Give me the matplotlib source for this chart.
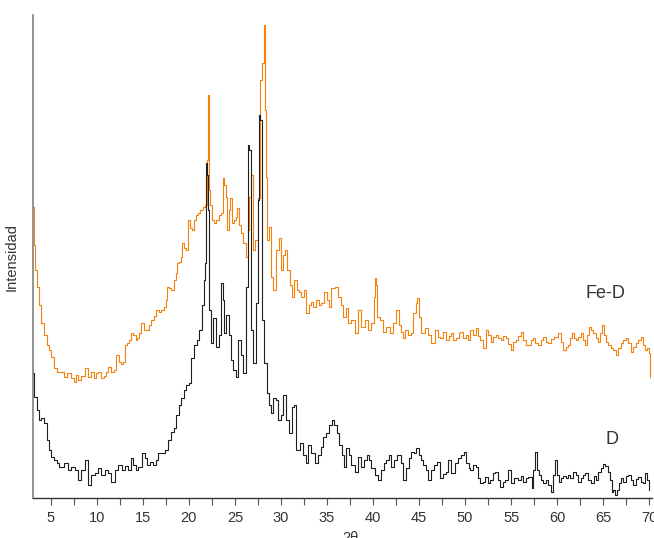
import matplotlib.pyplot as plt

plt.rcParams['font.family'] = ['Liberation Sans', 'DejaVu Sans']

# Muestra D: 2theta y cuentas (u.a.)
d_2theta = [3.08, 3.30, 3.62, 3.84, 4.16, 4.38, 4.71, 4.92, 5.25, 5.47, 5.79, 6.01, 6.33, 6.66,
            7.09, 7.42, 7.85, 8.18, 8.50, 8.94, 9.26, 9.59, 10.02, 10.35, 10.67, 11.11, 11.43,
            11.76, 12.19, 12.52, 12.95, 13.28, 13.60, 13.82, 14.14, 14.36, 14.69, 15.12, 15.34,
            15.55, 15.99, 16.31, 16.53, 16.85, 17.18, 17.61, 17.94, 18.27, 18.48, 18.81, 19.02,
            19.35, 19.57, 19.89, 20.11, 20.43, 20.76, 20.98, 21.30, 21.52, 21.74, 21.84, 21.95,
            22.06, 22.17, 22.28, 22.49, 22.82, 23.15, 23.36, 23.58, 23.80, 23.90, 24.23, 24.45,
            24.66, 24.99, 25.21, 25.53, 25.75, 26.07, 26.29, 26.51, 26.62, 26.83, 27.16, 27.38,
            27.59, 27.70, 27.81, 28.03, 28.35, 28.57, 28.79, 29.00, 29.33, 29.54, 29.87, 30.09,
            30.41, 30.74, 31.06, 31.28, 31.50, 31.82, 32.26, 32.58, 32.80, 33.12, 33.45, 33.88,
            34.21, 34.43, 34.75, 35.08, 35.40, 35.62, 35.94, 36.16, 36.49, 36.70, 36.92, 37.25,
            37.46, 37.79, 38.22, 38.55, 38.87, 39.20, 39.41, 39.63, 39.96, 40.39, 40.72, 41.04,
            41.26, 41.58, 41.80, 42.13, 42.45, 42.67, 42.89, 43.10, 43.43, 43.75, 43.97, 44.30,
            44.51, 44.84, 45.05, 45.27, 45.60, 45.81, 46.14, 46.46, 46.79, 47.12, 47.44, 47.77,
            47.98, 48.31, 48.63, 49.07, 49.39, 49.72, 49.94, 50.26, 50.48, 50.69, 51.02, 51.24,
            51.56, 51.78, 52.10, 52.32, 52.65, 52.86, 53.19, 53.41, 53.73, 53.95, 54.27, 54.49,
            54.82, 55.14, 55.47, 55.68, 55.90, 56.23, 56.44, 56.77, 56.99, 57.20, 57.31, 57.53,
            57.74, 57.96, 58.07, 58.40, 58.61, 58.94, 59.15, 59.48, 59.70, 59.91, 60.13, 60.24,
            60.56, 60.78, 61.11, 61.32, 61.54, 61.87, 62.19, 62.41, 62.73, 62.95, 63.17, 63.49,
            63.82, 64.14, 64.36, 64.58, 64.90, 65.12, 65.34, 65.66, 65.88, 65.99, 66.20, 66.42,
            66.64, 66.86, 67.07, 67.29, 67.61, 67.83, 68.16, 68.37, 68.70, 68.92, 69.24, 69.46,
            69.68, 69.89, 70.00]
d_int = [125, 101, 88, 78, 80, 75, 58, 48, 41, 38, 35, 31, 31, 35,
         28, 31, 28, 18, 28, 38, 13, 23, 25, 30, 23, 28, 25,
         16, 28, 33, 28, 32, 28, 40, 33, 28, 31, 45, 40,
         33, 36, 33, 38, 45, 45, 48, 58, 66, 70, 83, 93,
         100, 108, 113, 115, 140, 153, 158, 168, 193, 218, 235, 335,
         323, 288, 188, 155, 180, 151, 163, 215, 198, 165, 183, 163,
         138, 128, 121, 158, 143, 125, 211, 353, 348, 168, 135, 195,
         298, 383, 378, 178, 135, 105, 93, 85, 100, 98, 78, 83,
         103, 78, 65, 91, 93, 48, 55, 43, 35, 53, 45, 35,
         43, 51, 61, 65, 73, 78, 73, 65, 53, 43, 31, 50,
         43, 33, 26, 41, 31, 38, 43, 38, 30, 23, 18, 28,
         35, 38, 43, 31, 38, 43, 43, 35, 18, 30, 40, 46,
         45, 50, 43, 38, 33, 28, 18, 28, 33, 36, 20, 24,
         26, 38, 25, 35, 40, 43, 46, 35, 30, 28, 33, 31,
         20, 15, 16, 21, 15, 18, 25, 26, 18, 11, 16, 18,
         28, 15, 20, 20, 18, 22, 16, 20, 21, 21, 10, 28,
         46, 28, 23, 18, 15, 18, 13, 6, 23, 38, 23, 16,
         20, 22, 20, 23, 20, 26, 23, 16, 20, 23, 25, 18,
         15, 22, 18, 26, 30, 34, 32, 26, 18, 6, 8, 3,
         8, 15, 20, 16, 22, 23, 18, 13, 19, 21, 16, 15,
         25, 18, 8]

# Muestra Fe-D
fed_2theta = [3.08, 3.19, 3.30, 3.62, 3.84, 4.16, 4.38, 4.71, 4.92, 5.14, 5.47, 5.79, 6.01, 6.33,
              6.55, 6.88, 7.09, 7.42, 7.64, 7.85, 8.18, 8.50, 8.94, 9.26, 9.59, 9.80, 10.02,
              10.35, 10.67, 10.89, 11.11, 11.43, 11.76, 11.97, 12.30, 12.52, 12.84, 12.95, 13.28,
              13.38, 13.60, 13.82, 14.14, 14.36, 14.47, 14.69, 15.01, 15.34, 15.55, 15.77, 16.10,
              16.31, 16.64, 16.85, 17.18, 17.40, 17.61, 17.72, 17.94, 18.27, 18.48, 18.70, 18.81,
              19.02, 19.24, 19.35, 19.57, 19.78, 20.00, 20.22, 20.43, 20.65, 20.87, 21.08, 21.41,
              21.74, 21.84, 21.95, 22.06, 22.17, 22.28, 22.39, 22.71, 22.82, 23.15, 23.36, 23.58,
              23.80, 23.90, 24.12, 24.23, 24.45, 24.56, 24.77, 24.99, 25.21, 25.31, 25.53, 25.75,
              26.07, 26.40, 26.51, 26.62, 26.83, 27.05, 27.38, 27.59, 27.81, 28.03, 28.24, 28.35,
              28.46, 28.57, 28.79, 29.00, 29.33, 29.65, 29.87, 30.09, 30.41, 30.52, 30.85, 31.06,
              31.28, 31.61, 31.82, 32.04, 32.36, 32.58, 32.91, 33.12, 33.34, 33.67, 33.99, 34.21,
              34.43, 34.86, 35.08, 35.29, 35.62, 36.05, 36.38, 36.59, 36.92, 37.14, 37.46, 37.79,
              38.22, 38.55, 38.87, 39.31, 39.63, 39.96, 40.17, 40.28, 40.39, 40.50, 40.93, 41.26,
              41.58, 42.02, 42.34, 42.67, 42.89, 43.10, 43.32, 43.64, 43.97, 44.19, 44.51, 44.73,
              44.84, 45.05, 45.38, 45.81, 46.14, 46.46, 46.90, 47.12, 47.44, 47.77, 48.09, 48.31,
              48.63, 48.85, 49.18, 49.39, 49.61, 49.94, 50.15, 50.48, 50.69, 51.02, 51.24, 51.56,
              51.78, 52.10, 52.43, 52.65, 52.97, 53.19, 53.51, 53.73, 54.06, 54.27, 54.60, 54.82,
              55.14, 55.36, 55.68, 55.90, 56.23, 56.44, 56.77, 56.99, 57.31, 57.53, 57.74, 58.07,
              58.40, 58.61, 58.94, 59.15, 59.48, 59.91, 60.24, 60.56, 60.78, 61.11, 61.32, 61.54,
              61.76, 61.97, 62.19, 62.41, 62.73, 62.95, 63.17, 63.38, 63.60, 63.82, 64.04, 64.36,
              64.58, 64.79, 65.01, 65.23, 65.45, 65.66, 65.99, 66.20, 66.53, 66.75, 67.07, 67.29,
              67.61, 67.83, 68.16, 68.37, 68.70, 68.92, 69.24, 69.46, 69.68, 69.89, 70.00, 70.05]
fed_int = [291, 253, 228, 211, 193, 175, 163, 153, 148, 141, 130, 126, 126, 126,
           121, 125, 125, 120, 116, 123, 118, 122, 130, 121, 126, 120, 125,
           126, 120, 122, 126, 131, 126, 128, 143, 136, 134, 136, 153,
           155, 158, 165, 163, 158, 160, 165, 175, 168, 168, 173, 178,
           182, 188, 186, 188, 191, 198, 211, 210, 208, 218, 225, 235,
           236, 241, 255, 250, 248, 278, 270, 268, 278, 283, 285, 288,
           291, 293, 293, 338, 403, 308, 293, 278, 275, 278, 283, 285,
           320, 313, 301, 268, 288, 300, 275, 278, 281, 290, 273, 265,
           255, 241, 268, 301, 323, 248, 258, 300, 418, 435, 473, 388,
           321, 258, 271, 221, 208, 248, 260, 228, 243, 248, 228, 213,
           201, 218, 208, 206, 201, 208, 185, 193, 196, 191, 198, 193,
           195, 206, 198, 191, 210, 211, 201, 193, 181, 190, 175, 178,
           165, 188, 171, 178, 168, 175, 201, 220, 213, 181, 178, 166,
           171, 165, 175, 188, 173, 166, 160, 168, 163, 165, 185, 195,
           200, 181, 165, 170, 163, 155, 168, 161, 160, 166, 158, 162,
           165, 158, 160, 165, 166, 160, 163, 158, 168, 163, 170, 162,
           158, 150, 168, 163, 156, 161, 163, 160, 158, 162, 160, 154,
           148, 156, 158, 162, 166, 158, 153, 153, 158, 160, 155, 153,
           158, 161, 156, 155, 159, 161, 165, 156, 148, 151, 153, 160,
           165, 160, 158, 161, 165, 158, 153, 163, 171, 168, 165, 160,
           156, 165, 173, 163, 156, 153, 150, 148, 143, 150, 155, 158,
           160, 155, 146, 151, 155, 158, 161, 153, 148, 150, 145, 121]

xticks_major = [5, 10, 15, 20, 25, 30, 35, 40, 45, 50, 55, 60, 65, 70]
xticks_minor = [7.5, 12.5, 17.5, 22.5, 27.5, 32.5, 37.5, 42.5, 47.5, 52.5, 57.5, 62.5, 67.5]

fig = plt.figure(figsize=(6.54, 5.38), dpi=100)
ax = fig.add_axes([0.0505, 0.0743, 0.9465, 0.8978])

ax.plot(fed_2theta, fed_int, color='#f5820d', lw=0.8, drawstyle='steps-mid')
ax.plot(d_2theta, d_int, color='#1e1e1e', lw=0.8, drawstyle='steps-mid')

ax.text(63.06, 205, 'Fe-D', fontsize=13, color='#333333', ha='left', va='center')
ax.text(65.23, 59, 'D', fontsize=13, color='#333333', ha='left', va='center')

ax.set_xlim(3.08, 70.3)
ax.set_ylim(0, 483)
ax.set_xticks(xticks_major)
ax.set_xticks(xticks_minor, minor=True)
ax.set_yticks([])

for s in ['top', 'right']:
    ax.spines[s].set_visible(False)
ax.spines['left'].set_color('#808080')
ax.spines['left'].set_linewidth(1.2)
ax.spines['bottom'].set_color('#333333')
ax.spines['bottom'].set_linewidth(1.0)
ax.tick_params(axis='x', which='both', direction='out', length=5, width=0.8,
               color='#555555', labelsize=10.5, labelcolor='#333333', pad=4)

# el eje x llega hasta el borde, por eso "70" y "2θ" quedan recortados
ax.set_xlabel('2θ', fontsize=10.5, color='#333333')
ax.xaxis.set_label_coords(0.512, -0.068)
ax.set_ylabel('Intensidad', fontsize=10.5, color='#333333')
ax.yaxis.set_label_coords(-0.024, 0.5)

fig.savefig('out.png', dpi=100)
